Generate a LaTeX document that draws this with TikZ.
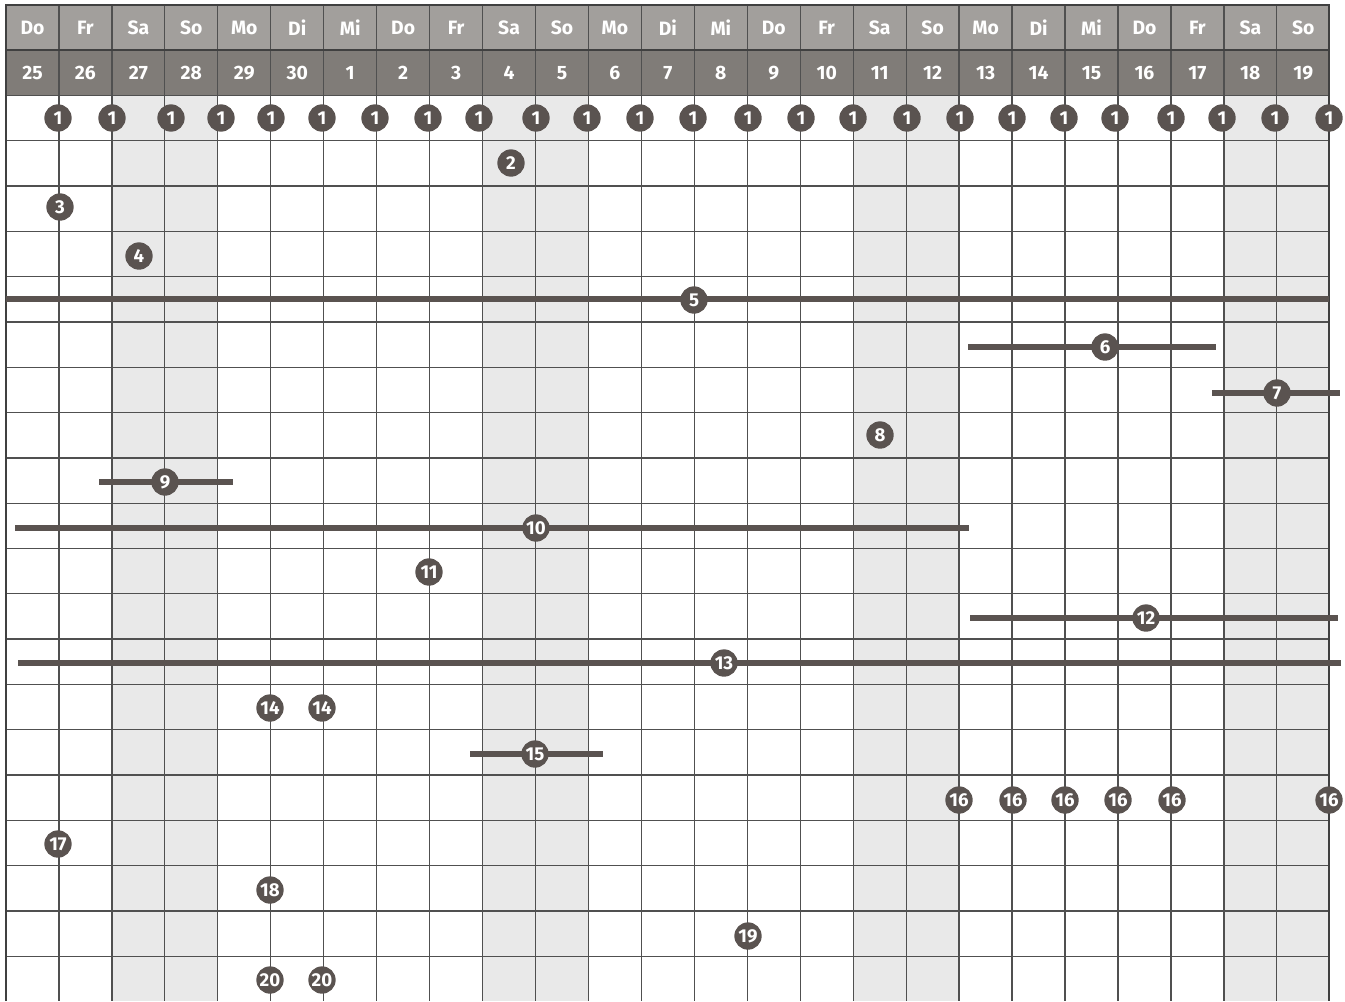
\documentclass[tikz,border=0pt]{standalone}
\usepackage{fontspec}
\setmainfont{Fira Sans}
\usetikzlibrary{positioning}
\definecolor{pinbrown}{HTML}{5A5350}
\definecolor{dayhead}{HTML}{A29F9C}
\definecolor{datehead}{HTML}{807C78}
\definecolor{weekend}{HTML}{E9E9E9}
\definecolor{gridgrey}{HTML}{505050}

\begin{document}
\begin{tikzpicture}[
  x=0.75pt, y=-0.75pt,
  gridline/.style={draw=gridgrey, line width=0.95pt},
  frame/.style={draw=gridgrey!80!black, line width=1.1pt},
  hdr/.style={text=white, font=\fontsize{14.5}{16}\selectfont\bfseries,
              inner sep=0, anchor=center},
  % one event on one day
  pin/.style={circle, fill=pinbrown, text=white, inner sep=0,
              minimum size=20.5pt, font=\fontsize{14}{15}\selectfont\bfseries},
  % an event that runs over several days
  bar/.style={draw=pinbrown, line width=4.2pt}
]
\useasboundingbox (0,0) rectangle (1345,1001);

% ══ header bands ══════════════════════════════════════════════════════════
\fill[dayhead]  (6,5)  rectangle (1329,50);
\fill[datehead] (6,50) rectangle (1329,95.5);

% ══ weekend columns ═══════════════════════════════════════════════════════
\foreach \c in {3,4,10,11,17,18,24,25}{
  \fill[weekend] ({6+52.95*(\c-1)},95.5) rectangle ({6+52.95*\c},1001);
}

% ══ grid ══════════════════════════════════════════════════════════════════
\foreach \c in {0,...,25}{
  \draw[gridline] ({6+52.95*\c},5) -- ({6+52.95*\c},1001);
}
\foreach \r in {0,...,19}{
  \draw[gridline] (6,{95.5+45.3*\r}) -- (1329,{95.5+45.3*\r});
}
\draw[frame] (6,50) -- (1329,50);
\draw[frame] (6,1001) -- (6,5) -- (1329,5) -- (1329,1001);

% ══ day names and dates ═══════════════════════════════════════════════════
\foreach \d [count=\i] in {Do,Fr,Sa,So,Mo,Di,Mi,Do,Fr,Sa,So,Mo,Di,Mi,
                           Do,Fr,Sa,So,Mo,Di,Mi,Do,Fr,Sa,So}{
  \node[hdr] (day\i) at ({6+52.95*(\i-0.5)},28) {\d};
}
\foreach \n [count=\i] in {25,26,27,28,29,30,1,2,3,4,5,6,7,8,9,10,11,12,
                           13,14,15,16,17,18,19}{
  \node[hdr] (date\i) at ({6+52.95*(\i-0.5)},73) {\n};
}

% ══ ranges — bars first, markers on top ═══════════════════════════════════
\coordinate (r5a)  at (6,299);     \coordinate (r5b)  at (1329,299);
\coordinate (r6a)  at (968,347);   \coordinate (r6b)  at (1216,347);
\coordinate (r7a)  at (1212,393);  \coordinate (r7b)  at (1340,393);
\coordinate (r9a)  at (99,482);    \coordinate (r9b)  at (233,482);
\coordinate (r10a) at (15,528);    \coordinate (r10b) at (969,528);
\coordinate (r12a) at (970,618);   \coordinate (r12b) at (1338,618);
\coordinate (r13a) at (18,663);    \coordinate (r13b) at (1341,663);
\coordinate (r15a) at (470,754);   \coordinate (r15b) at (603,754);
\foreach \k in {5,6,7,9,10,12,13,15}{
  \draw[bar] (r\k a) -- (r\k b);
}

% ══ markers ═══════════════════════════════════════════════════════════════
\foreach \px [count=\i] in {58,112,171,221,271,322,375,428,479,536,587,640,
                           693,748,801,853,907,960,1012,1064,1115,1171,1222,
                           1275,1329}{
  \node[pin] (one\i) at (\px,118) {1};
}
\node[pin] (e2)  at (511,163)  {2};
\node[pin] (e3)  at (60,207)   {3};
\node[pin] (e4)  at (139,256)  {4};
\node[pin] (e5)  at (694,300)  {5};
\node[pin] (e6)  at (1105,347) {6};
\node[pin] (e7)  at (1277,393) {7};
\node[pin] (e8)  at (880,435)  {8};
\node[pin] (e9)  at (165,482)  {9};
\node[pin] (e10) at (536,528)  {10};
\node[pin] (e11) at (429,572)  {11};
\node[pin] (e12) at (1146,618) {12};
\node[pin] (e13) at (724,663)  {13};
\node[pin] (e14a) at (270,708) {14};
\node[pin] (e14b) at (322,708) {14};
\node[pin] (e15) at (535,754)  {15};
\foreach \px [count=\i] in {959,1013,1065,1118,1172,1329}{
  \node[pin] (e16\i) at (\px,800) {16};
}
\node[pin] (e17) at (58,844)   {17};
\node[pin] (e18) at (270,890)  {18};
\node[pin] (e19) at (748,936)  {19};
\node[pin] (e20a) at (270,980) {20};
\node[pin] (e20b) at (322,980) {20};

\end{tikzpicture}
\end{document}
